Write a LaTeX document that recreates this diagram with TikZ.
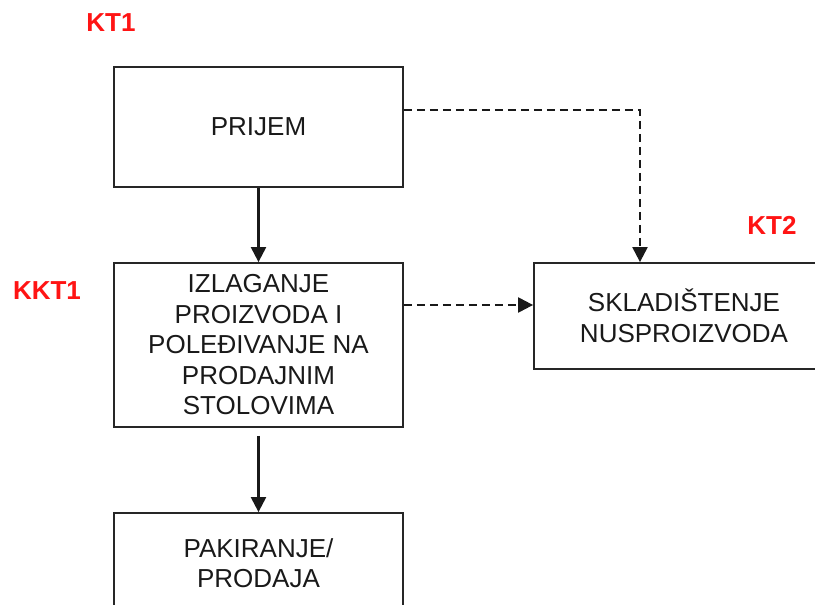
\documentclass[tikz,border=0pt]{standalone}
\usepackage{fontspec}
\setmainfont{Liberation Sans}
\usetikzlibrary{arrows.meta}
\definecolor{ktred}{RGB}{255,20,20}
\definecolor{txt}{RGB}{25,25,25}
\tikzset{
  procbox/.style={draw=black!85, line width=1.8pt, inner sep=0pt, align=center,
    text=txt, font=\fontsize{26}{30.5}\selectfont},
  ktlabel/.style={text=ktred, inner sep=0pt, font=\fontsize{26}{30}\selectfont\bfseries},
  flow/.style={line width=2.2pt, draw=black!90, -{Triangle[length=15pt,width=15pt]}},
  dflow/.style={flow, dash pattern=on 8pt off 5pt},
}
\begin{document}
\begin{tikzpicture}[x=1pt,y=-1pt]
\useasboundingbox (0,0) rectangle (815,605);
\node[procbox, minimum width=289pt, minimum height=120pt] (prijem) at (258.5,127) {PRIJEM};
\node[procbox, minimum width=289pt, minimum height=164pt] (izl) at (258.5,345)
  {IZLAGANJE\\PROIZVODA I\\POLEĐIVANJE NA\\PRODAJNIM\\STOLOVIMA};
\node[procbox, minimum width=300pt, minimum height=106pt] (skl) at (684,316)
  {SKLADIŠTENJE\\NUSPROIZVODA};
\node[procbox, minimum width=289pt, minimum height=100pt] (pak) at (258.5,563)
  {PAKIRANJE/\\PRODAJA};
\node[ktlabel] (kt1) at (111,23) {KT1};
\node[ktlabel] (kkt1) at (47,291) {KKT1};
\node[ktlabel] (kt2) at (772,225) {KT2};
\draw[flow] (prijem.south) -- (izl.north);
\draw[flow, shorten <=8pt] (izl.south) -- (pak.north);
\draw[dflow] ([yshift=40pt]izl.east) -- ([yshift=11pt]skl.west);
\draw[dflow] ([yshift=17pt]prijem.east) -| ([xshift=-44pt]skl.north);
\end{tikzpicture}
\end{document}
